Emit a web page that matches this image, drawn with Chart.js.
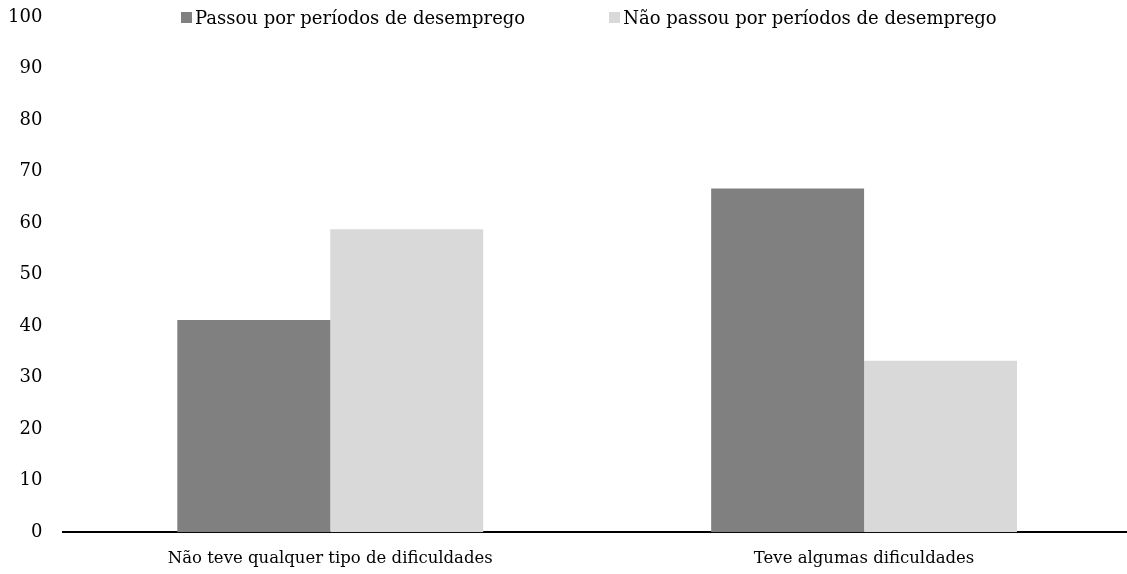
<!DOCTYPE html>
<html>
<head>
<meta charset="utf-8">
<script src="https://cdn.jsdelivr.net/npm/chart.js@4"></script>
<style>
  html, body { margin: 0; padding: 0; background: #fff; }
  #wrap { position: relative; width: 1127px; height: 574px; overflow: hidden; }
  #legenda {
    position: absolute; top: 7px; left: 181px;
    font-family: "DejaVu Serif", serif; font-size: 18px; color: #000;
    display: flex; gap: 84px; white-space: nowrap;
  }
  #legenda span.item { display: flex; align-items: center; }
  #legenda span.box { width: 11px; height: 11px; margin-right: 3px; display: inline-block; }
  canvas { display: block; }
</style>
</head>
<body>
<div id="wrap">
  <div id="legenda"></div>
  <canvas id="myChart" width="1131" height="574"></canvas>
</div>
<script>
// categorias do eixo x
const categorias = ['Não teve qualquer tipo de dificuldades', 'Teve algumas dificuldades']

// séries (%)
const nomesSeries = ['Passou por períodos de desemprego', 'Não passou por períodos de desemprego']
const passouDesemprego = [41.2, 66.7]
const naoPassouDesemprego = [58.8, 33.3]

const coresSeries = ['#808080', '#d9d9d9']

// eixo y
const yTicks = [0, 10, 20, 30, 40, 50, 60, 70, 80, 90, 100]

const fonteY = { family: '"DejaVu Serif", serif', size: 18 }
const fonteX = { family: '"DejaVu Serif", serif', size: 16.5 }

function insertLegenda(target) {
  nomesSeries.forEach((nome, i) => {
    const item = document.createElement('span')
    item.className = 'item'
    const box = document.createElement('span')
    box.className = 'box'
    box.style.background = coresSeries[i]
    item.appendChild(box)
    item.appendChild(document.createTextNode(nome))
    target.appendChild(item)
  })
}

insertLegenda(document.getElementById('legenda'))

const ctx = document.getElementById('myChart')

new Chart(ctx, {
  type: 'bar',
  data: {
    labels: categorias,
    datasets: [
      { label: nomesSeries[0], data: passouDesemprego, backgroundColor: coresSeries[0] },
      { label: nomesSeries[1], data: naoPassouDesemprego, backgroundColor: coresSeries[1] }
    ]
  },
  options: {
    responsive: false,
    animation: false,
    layout: { padding: { top: 0, right: 0, left: -13, bottom: -12 } },
    datasets: {
      bar: { categoryPercentage: 0.573, barPercentage: 1 }
    },
    plugins: {
      legend: { display: false },
      tooltip: { enabled: false }
    },
    scales: {
      x: {
        grid: { display: false, drawTicks: false },
        border: { display: true, color: '#000', width: 2 },
        ticks: { color: '#000', font: fonteX, padding: 17 }
      },
      y: {
        min: 0,
        max: 100,
        afterBuildTicks: axis => { axis.ticks = yTicks.map(v => ({ value: v })) },
        afterFit: axis => { axis.paddingTop = 17; axis.paddingBottom = 0 },
        grid: { display: false, drawTicks: false },
        border: { display: false },
        ticks: { color: '#000', font: fonteY, padding: 21 }
      }
    }
  }
})
</script>
</body>
</html>
